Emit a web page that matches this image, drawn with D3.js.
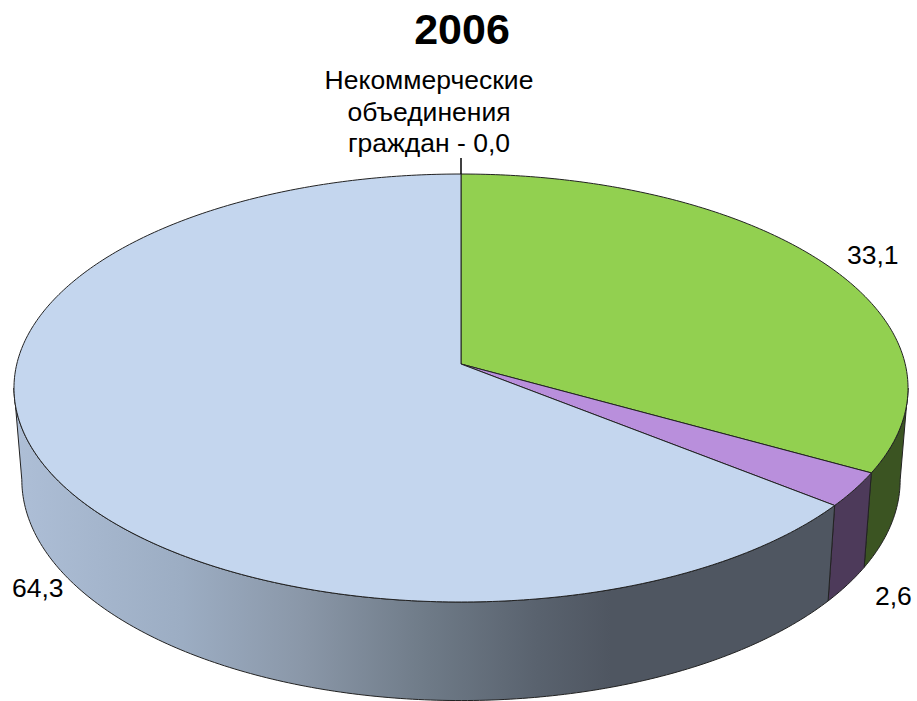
<!DOCTYPE html>
<html>
<head>
<meta charset="utf-8">
<script src="https://cdn.jsdelivr.net/npm/d3@7"></script>
<style>
html, body {margin: 0; padding: 0; background: #fff;}
svg {display: block;}
text {font-family: "Liberation Sans", Arial, sans-serif; fill: #000;}
</style>
</head>
<body>
<svg id="canvas" width="917" height="701"></svg>
<script>
var title = '2006';
// slice order runs clockwise from 12 o'clock
var categories = ['Группа 1', 'Группа 2', 'Группа 3', 'Некоммерческие объединения граждан'];
var values = [33.1, 2.6, 64.3, 0.0];
var value_labels = ['33,1', '2,6', '64,3', '0,0'];
var top_colors = ['#92d050', '#b98fdc', '#c4d6ee', '#c4d6ee'];
var side_colors = ['#3b5422', '#4d3a5a', null, null];
var blue_side_stops = ['#adbed6', '#9cadc3', '#8a97a8', '#6f7b88', '#59626e', '#4f5661', '#4f5661'];
var blue_side_offsets = [0, 0.2, 0.35, 0.5, 0.64, 0.73, 1];
var zero_label_lines = ['Некоммерческие', 'объединения', 'граждан - 0,0'];

draw_chart();

function draw_chart(){
    var svg = d3.select('#canvas');
    var cx = 461;
    var tilt = 0.1122; // perspective of the disc, the far edge is squeezed

    var top_face = {a: 444.2, b: 211.3, cy: 364};
    var bottom_face = {a: 436.4, b: 218, cy: 455};

    var angles = d3.pie().sort(null).value(function(d){return d})(values);
    var silhouette_right = Math.acos(-tilt);
    var silhouette_left = 2 * Math.PI - silhouette_right;

    function project(face, angle){
	var w = 1 + tilt * Math.cos(angle);
	return [cx + face.a * Math.sin(angle) / w, face.cy - face.b * Math.cos(angle) / w];
    }

    function rim(face, start, end){
	var n = Math.max(2, Math.ceil(Math.abs(end - start) * 80));
	return d3.range(n + 1).map(function(i){
	    return project(face, start + (end - start) * i / n);
	});
    }

    var line = d3.line();

    var gradient = svg.append('defs').append('linearGradient')
	.attr('id', 'blue-side')
	.attr('gradientUnits', 'userSpaceOnUse')
	.attr('x1', 20).attr('x2', 830).attr('y1', 0).attr('y2', 0);
    blue_side_stops.forEach(function(c, i){
	gradient.append('stop')
	    .attr('offset', blue_side_offsets[i])
	    .attr('stop-color', c);
    });

    // side wall
    angles.forEach(function(d, i){
	var start = Math.max(d.startAngle, silhouette_right);
	var end = Math.min(d.endAngle, silhouette_left);
	if(end <= start) return;
	var points = rim(top_face, start, end).concat(rim(bottom_face, end, start));
	svg.append('path')
	    .attr('d', line(points) + 'Z')
	    .attr('fill', side_colors[i] || 'url(#blue-side)')
	    .attr('stroke', '#222')
	    .attr('stroke-width', 1)
	    .attr('stroke-linejoin', 'round');
    });

    // top face
    angles.forEach(function(d, i){
	if(d.endAngle - d.startAngle <= 0) return;
	var centre = [cx, top_face.cy];
	svg.append('path')
	    .attr('d', line([centre].concat(rim(top_face, d.startAngle, d.endAngle))) + 'Z')
	    .attr('fill', top_colors[i])
	    .attr('stroke', '#222')
	    .attr('stroke-width', 1)
	    .attr('stroke-linejoin', 'round');
    });

    // leader of the zero slice
    var zero_tip = project(top_face, 0);
    svg.append('line')
	.attr('x1', zero_tip[0]).attr('x2', zero_tip[0])
	.attr('y1', zero_tip[1]).attr('y2', zero_tip[1] - 16)
	.attr('stroke', '#000')
	.attr('stroke-width', 1.5);

    svg.append('text')
	.attr('x', 462).attr('y', 44)
	.attr('text-anchor', 'middle')
	.attr('font-size', 43)
	.attr('font-weight', 'bold')
	.text(title);

    zero_label_lines.forEach(function(t, i){
	svg.append('text')
	    .attr('x', 429).attr('y', 89 + i * 31.6)
	    .attr('text-anchor', 'middle')
	    .attr('font-size', 26.5)
	    .text(t);
    });

    var label_x = [847, 875, 12];
    var label_y = [264, 605, 597];
    label_x.forEach(function(x, i){
	svg.append('text')
	    .attr('x', x).attr('y', label_y[i])
	    .attr('font-size', 26.5)
	    .text(value_labels[i]);
    });
}
</script>
</body>
</html>
